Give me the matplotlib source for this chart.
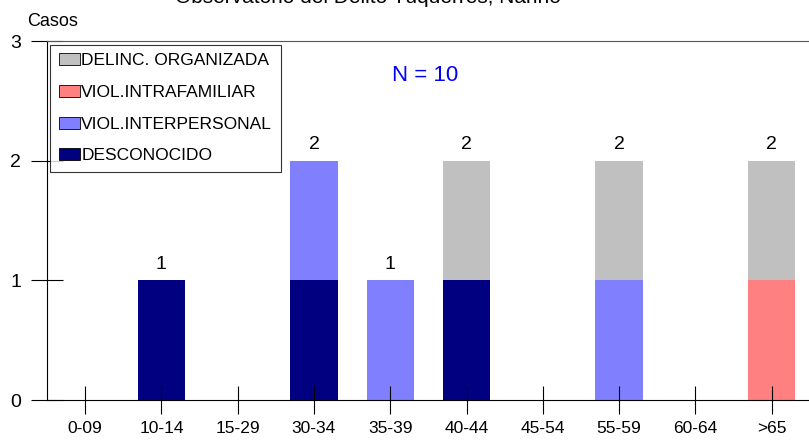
import matplotlib
matplotlib.use("Agg")
import matplotlib.pyplot as plt
import numpy as np

categories = ["0-09", "10-14", "15-29", "30-34", "35-39", "40-44", "45-54", "55-59", "60-64", ">65"]
desconocido = [0, 1, 0, 1, 0, 1, 0, 0, 0, 0]
viol_interpersonal = [0, 0, 0, 1, 1, 0, 0, 1, 0, 0]
viol_intrafamiliar = [0, 0, 0, 0, 0, 0, 0, 0, 0, 1]
delinc_organizada = [0, 0, 0, 0, 0, 1, 0, 1, 0, 1]
series_names = ["DESCONOCIDO", "VIOL.INTERPERSONAL", "VIOL.INTRAFAMILIAR", "DELINC. ORGANIZADA"]
series_values = [desconocido, viol_interpersonal, viol_intrafamiliar, delinc_organizada]
colors = ["#000080", "#8080FF", "#FF8080", "#C0C0C0"]

plt.rcParams['font.family'] = ['Liberation Sans', 'DejaVu Sans']

fig = plt.figure(figsize=(8.09, 4.40), dpi=100)
W, H = 809, 440
ax = fig.add_axes([47 / W, 1 - 400 / H, (809 - 47) / W, (400 - 41) / H])

x = np.arange(len(categories))
bottom = np.zeros(len(categories))
handles = []
for name, vals, c in zip(series_names, series_values, colors):
    v = np.array(vals, dtype=float)
    b = ax.bar(x, v, width=0.62, bottom=bottom, color=c, label=name, linewidth=0)
    handles.append(b)
    bottom += v

totals = bottom
for xi, t in zip(x, totals):
    if t > 0:
        ax.text(xi, t + 0.06, f"{int(t)}", ha='center', va='bottom', fontsize=14)

ax.set_xlim(-0.5, 9.49)
ax.set_ylim(0, 3)
ax.set_yticks([0, 1, 2, 3])
ax.set_xticks(x)
ax.set_xticklabels(categories)
ax.spines['right'].set_visible(False)
ax.spines['top'].set_color('#555555')
ax.tick_params(axis='y', direction='inout', length=23, labelsize=14, pad=7)
ax.tick_params(axis='x', direction='inout', length=20, labelsize=12.5, pad=5)

leg = ax.legend(handles[::-1], series_names[::-1], loc='upper left',
                bbox_to_anchor=(3 / 762, 0.99), fontsize=12.5, frameon=True,
                fancybox=False, edgecolor='black', handlelength=1.2, handleheight=0.7,
                handletextpad=0.1, borderpad=0.5, labelspacing=0.95, borderaxespad=0)
leg.get_frame().set_linewidth(0.8)
for p in leg.get_patches():
    p.set_edgecolor('black')
    p.set_linewidth(0.6)

ax.text(4.46, 2.71, "N = 10", color='#0000FF', fontsize=16, ha='center', va='center')

fig.text(53 / W, 1 - 21 / H, "Casos", ha='center', va='center', fontsize=13)
fig.text(368 / W, 1 - 3 / H, "Observatorio del Delito Túquerres, Nariño", ha='center',
         va='baseline', fontsize=15)

fig.savefig("out.png", dpi=100)
